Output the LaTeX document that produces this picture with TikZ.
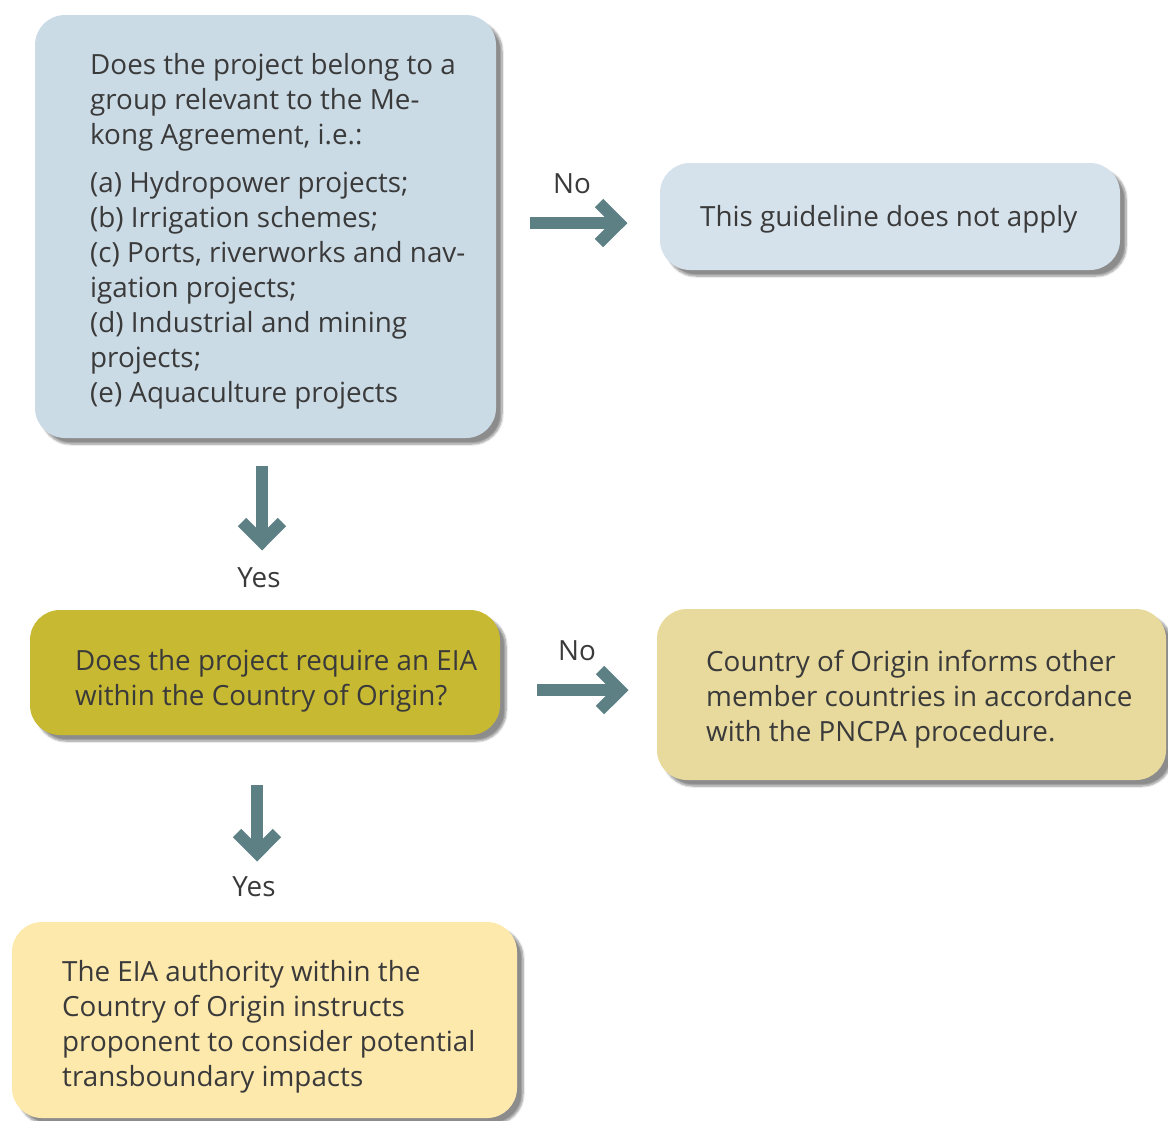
\documentclass[tikz,border=0pt]{standalone}
\usepackage{fontspec}
\setmainfont{Open Sans}
\usetikzlibrary{shadows.blur}
\definecolor{cA}{HTML}{CBDBE6}
\definecolor{cB}{HTML}{D5E1EB}
\definecolor{cC}{HTML}{C8B933}
\definecolor{cD}{HTML}{E8DA9D}
\definecolor{cE}{HTML}{FEE9AD}
\definecolor{arr}{HTML}{5D8085}
\definecolor{txt}{HTML}{3A3A3A}
\tikzset{
  boxnode/.style={rounded corners=30pt, draw=none, inner sep=0pt,
    blur shadow={shadow xshift=6pt, shadow yshift=-6pt, shadow blur steps=8, shadow opacity=45}},
  txtnode/.style={anchor=west, align=left, inner sep=0pt, text=txt,
    font=\fontsize{27.8}{35}\selectfont},
  lbl/.style={inner sep=0pt, text=txt, font=\fontsize{27.8}{35}\selectfont},
  shaft/.style={draw=arr, line width=12.5pt},
  headfill/.style={fill=arr, draw=none}
}
\begin{document}
\begin{tikzpicture}[x=1pt,y=-1pt]
\useasboundingbox (0,0) rectangle (1168,1120);
% boxes
\node[boxnode, fill=cA, minimum width=461pt, minimum height=423pt] (q1) at (265.5,226.5) {};
\node[boxnode, fill=cB, minimum width=460pt, minimum height=107pt] (r1) at (890,216.5) {};
\node[boxnode, fill=cC, minimum width=470pt, minimum height=125pt] (q2) at (265,672.5) {};
\node[boxnode, fill=cD, minimum width=509pt, minimum height=171pt] (r2) at (911.5,694.5) {};
\node[boxnode, fill=cE, minimum width=505pt, minimum height=196pt] (r3) at (264.5,1020) {};
% texts
\node[txtnode] (t1) at (90,231) {Does the project belong to a\\group relevant to the Me-\\kong Agreement, i.e.:\\[13pt]%
(a) Hydropower projects;\\(b) Irrigation schemes;\\(c) Ports, riverworks and nav-\\igation projects;\\(d) Industrial and mining\\projects;\\(e) Aquaculture projects};
\node[txtnode] (t2) at (700,219.5) {This guideline does not apply};
\node[txtnode] (t3) at (75,681) {Does the project require an EIA\\within the Country of Origin?};
\node[txtnode] (t4) at (706,699) {Country of Origin informs other\\member countries in accordance\\with the PNCPA procedure.};
\node[txtnode] (t5) at (62,1027) {The EIA authority within the\\Country of Origin instructs\\proponent to consider potential\\transboundary impacts};
% arrow 1 (right, No)
\coordinate (a1s) at (530,223);
\coordinate (a1t) at (619,223);
\draw[shaft] (a1s) -- ([xshift=-6pt]a1t);
\fill[headfill, shift={(a1t)}] (8.49,0) -- (-15.76,-24.24) -- (-24.24,-15.76) -- (-8.49,0) -- (-24.24,15.76) -- (-15.76,24.24) -- cycle;
\node[lbl] (n1) at (572,184) {No};
% arrow 2 (down, Yes)
\coordinate (a2s) at (262,466);
\coordinate (a2t) at (262,542);
\draw[shaft] (a2s) -- ([yshift=6pt]a2t);
\fill[headfill, shift={(a2t)}] (0,8.49) -- (-24.24,-15.76) -- (-15.76,-24.24) -- (0,-8.49) -- (15.76,-24.24) -- (24.24,-15.76) -- cycle;
\node[lbl] (y1) at (259,578) {Yes};
% arrow 3 (right, No)
\coordinate (a3s) at (537,690);
\coordinate (a3t) at (620,690);
\draw[shaft] (a3s) -- ([xshift=-6pt]a3t);
\fill[headfill, shift={(a3t)}] (8.49,0) -- (-15.76,-24.24) -- (-24.24,-15.76) -- (-8.49,0) -- (-24.24,15.76) -- (-15.76,24.24) -- cycle;
\node[lbl] (n2) at (577,651) {No};
% arrow 4 (down, Yes)
\coordinate (a4s) at (257,785);
\coordinate (a4t) at (257,853);
\draw[shaft] (a4s) -- ([yshift=6pt]a4t);
\fill[headfill, shift={(a4t)}] (0,8.49) -- (-24.24,-15.76) -- (-15.76,-24.24) -- (0,-8.49) -- (15.76,-24.24) -- (24.24,-15.76) -- cycle;
\node[lbl] (y2) at (254,887) {Yes};
\end{tikzpicture}
\end{document}
